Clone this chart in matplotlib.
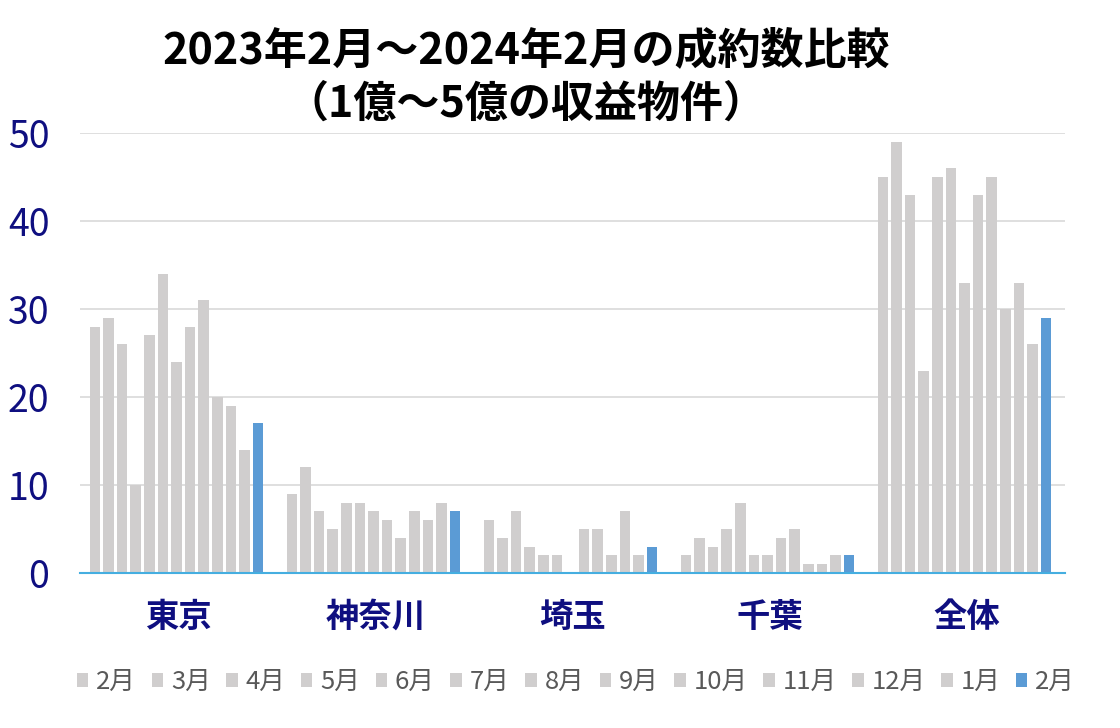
import numpy as np
import matplotlib.pyplot as plt
from matplotlib.patches import Patch

plt.rcParams['font.family'] = ['Noto Sans CJK JP', 'DejaVu Sans']

regions = ["東京", "神奈川", "埼玉", "千葉", "全体"]
months = ["2月", "3月", "4月", "5月", "6月", "7月", "8月", "9月", "10月", "11月", "12月", "1月", "2月"]

# rows = region, columns = month (2023/2 .. 2024/2)
tokyo = [28, 29, 26, 10, 27, 34, 24, 28, 31, 20, 19, 14, 17]
kanagawa = [9, 12, 7, 5, 8, 8, 7, 6, 4, 7, 6, 8, 7]
saitama = [6, 4, 7, 3, 2, 2, 0, 5, 5, 2, 7, 2, 3]
chiba = [2, 4, 3, 5, 8, 2, 2, 4, 5, 1, 1, 2, 2]
total = [45, 49, 43, 23, 45, 46, 33, 43, 45, 30, 33, 26, 29]

yticks = [0, 10, 20, 30, 40, 50]

gray = "#d0cece"
blue = "#5b9bd5"
navy = "#0f0f80"

data = np.array([tokyo, kanagawa, saitama, chiba, total])
n = len(months)
slot = 0.069
width = 0.054

fig = plt.figure(figsize=(11.2, 7.28), dpi=100)
ax = fig.add_axes([80 / 1120, 155 / 728, 985 / 1120, 440 / 728])

x = np.arange(len(regions))
for j in range(n):
    color = blue if j == n - 1 else gray
    ax.bar(x + (j - (n - 1) / 2) * slot - 0.01, data[:, j], width=width, color=color, zorder=2)

ax.set_xlim(-0.5, len(regions) - 0.5)
ax.set_ylim(0, 50)
ax.set_yticks(yticks)
ax.set_yticklabels([str(v) for v in yticks], fontsize=27, color=navy)
ax.tick_params(axis="y", length=0, pad=22)
ax.set_xticks(x)
ax.set_xticklabels(regions, fontsize=24, color=navy, fontweight="bold")
ax.tick_params(axis="x", length=0, pad=20)
ax.grid(axis="y", color="#d9d9d9", linewidth=1.2, zorder=0)
for s in ["top", "right", "left"]:
    ax.spines[s].set_visible(False)
ax.spines["bottom"].set_color("#45aee0")
ax.spines["bottom"].set_linewidth(1.5)
ax.spines["bottom"].set_zorder(3)

fig.text(526 / 1120, 1 - 50 / 728, "2023年2月～2024年2月の成約数比較",
         ha="center", va="center", fontsize=31, fontweight="bold", color="black")
fig.text(526 / 1120, 1 - 104 / 728, "（1億～5億の収益物件）",
         ha="center", va="center", fontsize=31, fontweight="bold", color="black")

handles = [Patch(facecolor=blue if j == n - 1 else gray) for j in range(n)]
fig.legend(handles, months, loc="center", bbox_to_anchor=(576 / 1120, 1 - 682 / 728),
           ncol=n, frameon=False, fontsize=18.5, labelcolor="#595959",
           handlelength=0.45, handleheight=0.45, handletextpad=0.3, columnspacing=0.6)

fig.savefig("out.png", dpi=100)
